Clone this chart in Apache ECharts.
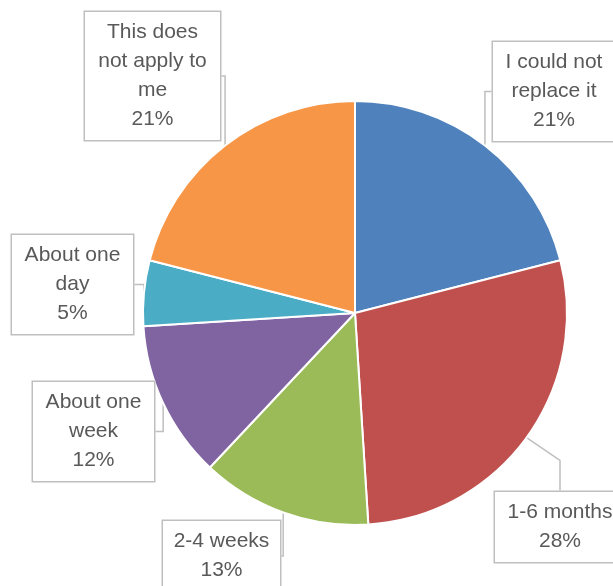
<!DOCTYPE html>
<html>
<head>
<meta charset="utf-8">
<script src="https://cdn.jsdelivr.net/npm/echarts@6/dist/echarts.min.js"></script>
<style>
  html, body { margin: 0; padding: 0; background: #fff; }
  #chart { width: 613px; height: 586px; }
</style>
</head>
<body>
<div id="chart"></div>
<script>
// slices, clockwise from 12 o'clock
const categories = ['I could not replace it', '1-6 months', '2-4 weeks', 'About one week', 'About one day', 'This does not apply to me'];
const shares = [21, 28, 13, 12, 5, 21];
const labelText = ['I could not\nreplace it', '1-6 months', '2-4 weeks', 'About one\nweek', 'About one\nday', 'This does\nnot apply to\nme'];
const colors = ['#4F81BD', '#C0504D', '#9BBB59', '#8064A2', '#4BACC6', '#F79646'];

// callout boxes: left, top, width (px)
const boxes = [
    [493, 42, 122],
    [495, 492, 130],
    [163, 521, 117],
    [33, 382, 121],
    [12, 235, 121],
    [85, 12, 135]
];

const chart = echarts.init(document.getElementById('chart'));

const data = categories.map((name, i) => ({
    name: name,
    value: shares[i],
    itemStyle: { color: colors[i] },
    label: { width: boxes[i][2] - 12 }
}));

chart.setOption({
    animation: false,
    series: [{
        type: 'pie',
        center: [355, 313],
        radius: 212,
        startAngle: 90,
        clockwise: true,
        avoidLabelOverlap: false,
        itemStyle: { borderColor: '#fff', borderWidth: 2 },
        label: {
            show: true,
            formatter: p => labelText[p.dataIndex] + '\n' + Math.round(p.percent) + '%',
            fontFamily: 'Liberation Sans, Arial, sans-serif',
            fontSize: 21,
            lineHeight: 29,
            color: '#595959',
            align: 'center',
            backgroundColor: '#fff',
            borderColor: '#bfbfbf',
            borderWidth: 1.5,
            padding: [6, 6]
        },
        labelLine: {
            show: true,
            lineStyle: { color: '#bfbfbf', width: 1.5 }
        },
        labelLayout: params => ({
            x: boxes[params.dataIndex][0] + boxes[params.dataIndex][2] / 2,
            y: boxes[params.dataIndex][1],
            align: 'center',
            verticalAlign: 'top'
        }),
        data: data
    }]
});
</script>
</body>
</html>
